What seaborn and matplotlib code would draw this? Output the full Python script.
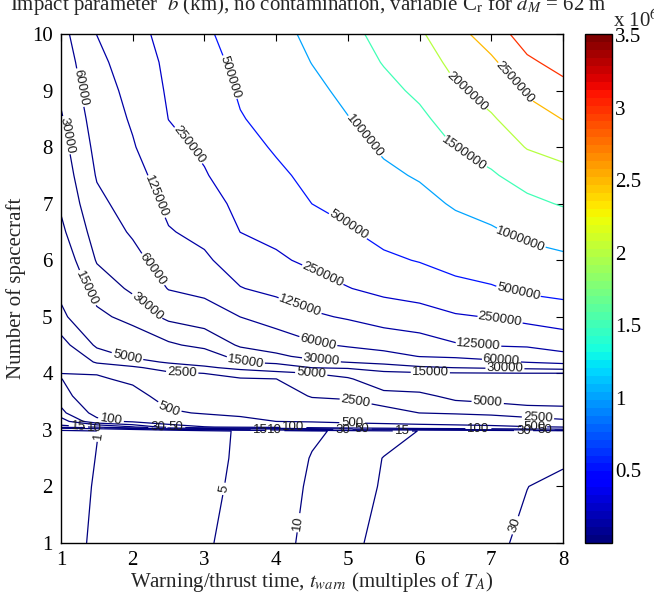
import numpy as np
import matplotlib
matplotlib.use("Agg")
import matplotlib.pyplot as plt
import seaborn as sns
from matplotlib.colors import Normalize
from matplotlib.cm import ScalarMappable

# ---------------- data ----------------
t_warn = [1.0, 1.5, 2.0, 2.5, 3.0, 3.5, 4.0, 4.5, 5.0, 5.5, 6.0, 6.5, 7.0, 7.5, 8.0]
n_spacecraft = [1.0, 2.0, 2.5, 2.98, 3.05, 3.15, 3.3, 3.6, 3.9, 4.0, 4.1, 4.2, 4.3,
                4.5, 5.0, 5.5, 6.0, 6.5, 7.0, 7.5, 8.0, 8.5, 9.0, 9.5, 10.0]

# log10 of impact parameter b (km), one row per number of spacecraft
logb_n1_00 = [-0.15, 0.06, 0.26, 0.46, 0.66, 0.807, 0.94, 1.05, 1.14, 1.22, 1.295, 1.37, 1.443, 1.51, 1.57]
logb_n2_00 = [-0.17, 0.03, 0.23, 0.42, 0.61, 0.77, 0.905, 1.03, 1.11, 1.19, 1.263, 1.334, 1.405, 1.475, 1.52]
logb_n2_50 = [-0.2, 0.01, 0.21, 0.40, 0.59, 0.75, 0.89, 1.01, 1.10, 1.18, 1.23, 1.29, 1.35, 1.41, 1.45]
logb_n2_98 = [-0.2, -0.01, 0.2, 0.38, 0.58, 0.74, 0.85, 0.97, 1.04, 1.12, 1.18, 1.23, 1.28, 1.33, 1.37]
logb_n3_05 = [1.09, 1.2, 1.45, 1.8, 1.98, 2.05, 2.1, 2.2, 2.3, 2.35, 2.45, 2.5, 2.55, 2.65, 2.7]
logb_n3_15 = [1.35, 1.91, 2.047, 2.215, 2.35, 2.55, 2.70, 2.749, 2.839, 2.916, 2.961, 3.014, 3.092, 3.237, 3.334]
logb_n3_30 = [1.63, 2.11, 2.186, 2.619, 2.746, 2.81, 2.839, 2.999, 3.1, 3.277, 3.40, 3.448, 3.503, 3.57, 3.59]
logb_n3_60 = [1.83, 2.36, 2.466, 2.961, 3.025, 3.09, 3.118, 3.437, 3.476, 3.586, 3.618, 3.789, 3.825, 3.86, 3.866]
logb_n3_90 = [1.98, 2.615, 2.829, 3.252, 3.305, 3.37, 3.395, 3.633, 3.657, 3.938, 3.982, 4.059, 4.076, 4.091, 4.093]
logb_n4_00 = [2.72, 2.73, 3.087, 3.35, 3.40, 3.538, 3.586, 3.70, 3.829, 4.096, 4.131, 4.149, 4.159, 4.168, 4.168]
logb_n4_10 = [2.82, 3.165, 3.346, 3.523, 3.649, 3.779, 3.937, 4.18, 4.23, 4.343, 4.439, 4.48, 4.517, 4.552, 4.597]
logb_n4_20 = [2.93, 3.45, 3.583, 3.738, 3.826, 4.18, 4.271, 4.408, 4.489, 4.552, 4.62, 4.654, 4.717, 4.79, 4.845]
logb_n4_30 = [3.05, 3.56, 3.744, 3.867, 3.985, 4.307, 4.43, 4.543, 4.604, 4.678, 4.785, 4.816, 4.871, 4.913, 5.013]
logb_n4_50 = [3.28, 3.747, 3.924, 4.125, 4.265, 4.514, 4.59, 4.731, 4.811, 4.881, 4.955, 5.071, 5.115, 5.135, 5.216]
logb_n5_00 = [3.61, 4.093, 4.29, 4.543, 4.63, 4.78, 4.916, 5.049, 5.128, 5.234, 5.286, 5.37, 5.409, 5.485, 5.546]
logb_n5_50 = [3.8, 4.32, 4.525, 4.79, 4.856, 5.085, 5.173, 5.28, 5.388, 5.47, 5.518, 5.616, 5.673, 5.756, 5.797]
logb_n6_00 = [3.956, 4.499, 4.683, 4.933, 5.05, 5.244, 5.355, 5.454, 5.532, 5.649, 5.714, 5.804, 5.851, 5.924, 5.961]
logb_n6_50 = [4.11, 4.61, 4.813, 5.077, 5.174, 5.40, 5.468, 5.577, 5.671, 5.785, 5.84, 5.926, 5.975, 6.046, 6.087]
logb_n7_00 = [4.22, 4.71, 4.90, 5.166, 5.276, 5.47, 5.56, 5.70, 5.778, 5.882, 5.938, 6.023, 6.077, 6.144, 6.187]
logb_n7_50 = [4.296, 4.80, 4.987, 5.246, 5.378, 5.542, 5.653, 5.76, 5.862, 5.961, 6.019, 6.106, 6.161, 6.231, 6.269]
logb_n8_00 = [4.37, 4.861, 5.074, 5.326, 5.442, 5.613, 5.725, 5.822, 5.932, 6.028, 6.088, 6.18, 6.23, 6.307, 6.338]
logb_n8_50 = [4.447, 4.92, 5.13, 5.401, 5.496, 5.685, 5.776, 5.883, 5.992, 6.087, 6.149, 6.235, 6.29, 6.36, 6.40]
logb_n9_00 = [4.53, 4.979, 5.173, 5.433, 5.55, 5.728, 5.828, 5.945, 6.054, 6.139, 6.201, 6.287, 6.34, 6.41, 6.453]
logb_n9_50 = [4.60, 5.038, 5.216, 5.464, 5.605, 5.764, 5.879, 6.005, 6.109, 6.183, 6.247, 6.331, 6.383, 6.464, 6.502]
logb_n10_0 = [4.68, 5.10, 5.30, 5.496, 5.66, 5.8, 5.93, 6.05, 6.139, 6.218, 6.288, 6.37, 6.439, 6.512, 6.545]

contour_levels_km = [1, 5, 10, 15, 30, 50, 100, 500, 2500, 5000, 15000, 30000, 60000,
                     125000, 250000, 500000, 1000000, 1500000, 2000000, 2500000, 3000000]
x_ticks = [1, 2, 3, 4, 5, 6, 7, 8]
y_ticks = [1, 2, 3, 4, 5, 6, 7, 8, 9, 10]
cbar_ticks = [0.5e6, 1.0e6, 1.5e6, 2.0e6, 2.5e6, 3.0e6, 3.5e6]
cbar_ticklabels = ["0.5", "1", "1.5", "2", "2.5", "3", "3.5"]
cbar_range = (0.0, 3.51e6)

# ---------------- style ----------------
sns.set_theme(style="white")
plt.rcParams["font.family"] = ["Liberation Serif", "DejaVu Serif"]
plt.rcParams["mathtext.fontset"] = "stix"
plt.rcParams["axes.linewidth"] = 1.0
plt.rcParams["axes.edgecolor"] = "black"

W, H = 654, 604
fig = plt.figure(figsize=(W / 100, H / 100), dpi=100)
fig.patch.set_facecolor("white")

def px_axes(l, t, r, b):
    return [l / W, (H - b) / H, (r - l) / W, (b - t) / H]

ax = fig.add_axes(px_axes(61, 34, 563, 543))
cax = fig.add_axes(px_axes(585, 34, 612, 543))

log_grid = np.array([logb_n1_00, logb_n2_00, logb_n2_50, logb_n2_98, logb_n3_05, logb_n3_15,
                     logb_n3_30, logb_n3_60, logb_n3_90, logb_n4_00, logb_n4_10, logb_n4_20,
                     logb_n4_30, logb_n4_50, logb_n5_00, logb_n5_50, logb_n6_00, logb_n6_50,
                     logb_n7_00, logb_n7_50, logb_n8_00, logb_n8_50, logb_n9_00, logb_n9_50,
                     logb_n10_0])
X, Y = np.meshgrid(np.array(t_warn), np.array(n_spacecraft))

cmap = plt.get_cmap("jet", 64)
norm = Normalize(vmin=cbar_range[0], vmax=cbar_range[1])

label_spots = {
    1: [(1.52, 2.9)],
    5: [(3.26, 1.96)],
    10: [(1.47, 3.02), (3.98, 3.02), (4.3, 1.36)],
    15: [(1.24, 3.02), (3.78, 3.02), (5.76, 2.92)],
    30: [(2.35, 3.02), (4.93, 3.02), (7.45, 3.02), (7.32, 1.32)],
    50: [(2.6, 3.03), (5.2, 3.03), (7.75, 3.03)],
    100: [(1.7, 3.2), (4.24, 3.03), (6.82, 3.03)],
    500: [(2.5, 3.34), (5.06, 3.09), (7.6, 3.06)],
    2500: [(2.69, 4.01), (5.1, 3.45), (7.65, 3.19)],
    5000: [(1.92, 4.26), (4.49, 4.0), (6.95, 3.49)],
    15000: [(1.27, 5.46), (3.57, 4.18), (6.15, 4.02)],
    30000: [(1.07, 8.21), (2.17, 5.14), (4.63, 4.22), (7.19, 4.06)],
    60000: [(1.22, 9.04), (2.21, 5.77), (4.58, 4.52), (7.14, 4.2)],
    125000: [(2.24, 7.08), (4.32, 5.15), (6.82, 4.48)],
    250000: [(2.73, 7.98), (4.63, 5.69), (7.12, 4.93)],
    500000: [(3.26, 9.2), (4.99, 6.59), (7.37, 5.4)],
    1000000: [(5.24, 8.2), (7.4, 6.34)],
    1500000: [(6.63, 7.9)],
    2000000: [(6.65, 8.96)],
    2500000: [(7.32, 9.13)],
}

for lev_km in contour_levels_km:
    lv = np.log10(float(lev_km))
    cs = ax.contour(X, Y, log_grid, levels=[lv], colors=[cmap(norm(lev_km))],
                    linewidths=0.9)
    spots = label_spots.get(lev_km)
    if spots:
        texts = cs.clabel(cs.levels, manual=spots, fmt={cs.levels[0]: str(lev_km)},
                          colors="k", inline=True, inline_spacing=3, fontsize=9.5)
        for t in texts:
            t.set_fontfamily(["Liberation Sans", "DejaVu Sans"])

ax.set_xlim(1, 8)
ax.set_ylim(1, 10)
ax.set_xticks(x_ticks)
ax.set_yticks(y_ticks)
ax.tick_params(direction="in", top=True, right=True, length=5, width=0.8,
               labelsize=15, pad=6, colors="black")
for s in ax.spines.values():
    s.set_visible(True)
    s.set_color("black")

ax.set_xlabel(r"Warning/thrust time, $t_{warn}$ (multiples of $T_A$)", fontsize=15, labelpad=0)
ax.set_ylabel("Number of spacecraft", fontsize=15, labelpad=4)

sm = ScalarMappable(norm=norm, cmap=cmap)
cb = fig.colorbar(sm, cax=cax)
cb.set_ticks(cbar_ticks)
cb.set_ticklabels(cbar_ticklabels)
cb.outline.set_linewidth(1.0)
cb.outline.set_edgecolor("black")
cax.tick_params(direction="in", left=True, right=True, length=4, width=0.8,
                labelsize=15, pad=2, colors="black")

fig.text(613 / W, 1 - 27 / H, r"x 10$^6$", fontsize=15, ha="left", va="baseline")
fig.text(10 / W, 1 - 10 / H,
         r"Impact parameter  $b$ (km), no contamination, variable C$_\mathrm{r}$ for $d_M$ = 62 m",
         fontsize=15, ha="left", va="baseline")

fig.savefig("out.png", dpi=100, facecolor="white")
